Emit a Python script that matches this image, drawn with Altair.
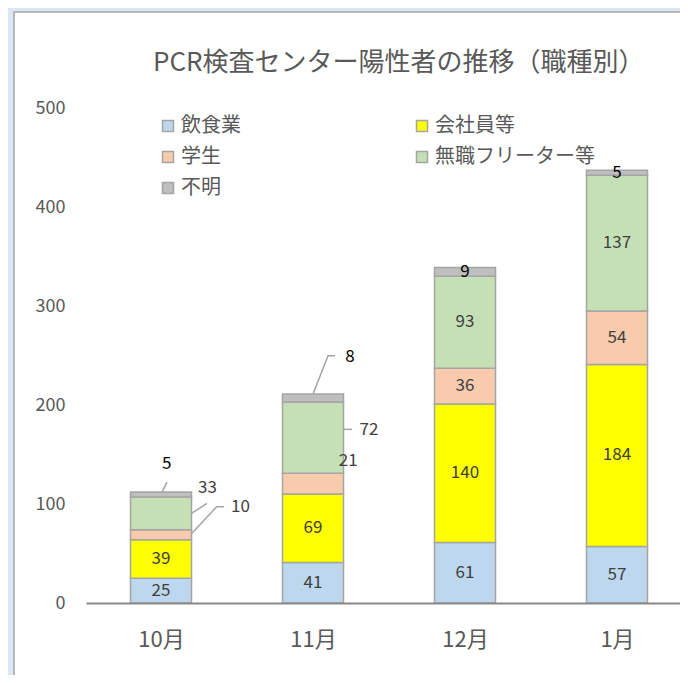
import json
import altair as alt
import pandas as pd

# ---- data ----
months = ["10月", "11月", "12月", "1月"]
categories = ["飲食業", "会社員等", "学生", "無職フリーター等", "不明"]
inshoku = [25, 41, 61, 57]
kaishain = [39, 69, 140, 184]
gakusei = [10, 21, 36, 54]
mushoku = [33, 72, 93, 137]
fumei = [5, 8, 9, 5]

# ---- style ----
colors = ["#bdd7ee", "#ffff00", "#f8cbad", "#c5e0b4", "#bfbfbf"]
FONT = "Noto Sans CJK JP"
GRAY_TXT = "#595959"
LABEL_TXT = "#404040"
EDGE = "#a5a5a5"
PAD_L, PAD_T, PAD_B = 78, 100, 72
W, H = 594, 495
PX = 152.0
XMIN = -75.0 / PX
XMAX = XMIN + W / PX
YMAX = 500
PY = H / YMAX
HALF = 30.5 / PX

series = [inshoku, kaishain, gakusei, mushoku, fumei]
rows = []
tops = []
for i, m in enumerate(months):
    base = 0
    for k, (c, vals) in enumerate(zip(categories, series)):
        v = vals[i]
        rows.append(dict(month=m, idx=i, cat=c, value=v, y0=base, y1=base + v,
                         mid=base + v / 2, x0=i - HALF, x1=i + HALF, order=k))
        base += v
    tops.append(base)
df = pd.DataFrame(rows)

# callout placement (pixel offsets from bar centre / anchor)
callouts = {
    ("10月", "不明"): ("top", 5.7, -28, [(1, 0), (6, -10)]),
    ("10月", "無職フリーター等"): ("mid", 46.5, -25.4, [(30.5, 0), (46, -10)]),
    ("10月", "学生"): ("mid", 79.5, -27.6, [(30.5, -1), (55.7, -28), (63, -28)]),
    ("11月", "不明"): ("top", 37, -37.4, [(0, 0), (15, -38.4), (22, -38.4)]),
    ("11月", "無職フリーター等"): ("mid", 56, -7.6, [(31, -8.3), (39, -8.3)]),
    ("11月", "学生"): ("mid", 35.3, -23.1, []),
}

lab_rows = []
lead_rows = []
for r in rows:
    key = (r["month"], r["cat"])
    black = r["cat"] == "不明"
    if key in callouts:
        anc, dx, dy, pts = callouts[key]
        ay = tops[r["idx"]] if anc == "top" else r["mid"]
        lab_rows.append(dict(x=r["idx"] + dx / PX, y=ay - dy / PY, text=str(r["value"]), black=black))
        for s, (px, py) in enumerate(pts):
            lead_rows.append(dict(lid="|".join(key), seq=s, x=r["idx"] + px / PX, y=ay - py / PY))
    else:
        lab_rows.append(dict(x=r["idx"], y=r["mid"], text=str(r["value"]), black=black))
labs = pd.DataFrame(lab_rows)
leads = pd.DataFrame(lead_rows)

xscale = alt.Scale(domain=[XMIN, XMAX], nice=False, zero=False)
yscale = alt.Scale(domain=[0, YMAX], nice=False)
label_expr = json.dumps(months, ensure_ascii=False) + "[datum.value]"

# white chart panel (decoration) with grey frame, page background is light blue
panel = alt.Chart(pd.DataFrame({"a": [0]})).mark_rect(
    fill="white", stroke="#a6a6a6", strokeWidth=1.5
).encode(x=alt.value(14 - 8 - PAD_L), x2=alt.value(W + 60),
         y=alt.value(12 - 8 - PAD_T), y2=alt.value(H + 200))

bars = alt.Chart(df).mark_bar(stroke=EDGE, strokeWidth=1.5).encode(
    x=alt.X("x0:Q", scale=xscale, title=None,
            axis=alt.Axis(values=[0, 1, 2, 3], labelExpr=label_expr, grid=False, ticks=False,
                          domainColor="#898989", domainWidth=2, labelFontSize=22,
                          labelColor=GRAY_TXT, labelPadding=26, labelFont=FONT, zindex=1)),
    x2="x1:Q",
    y=alt.Y("y0:Q", scale=yscale, title=None,
            axis=alt.Axis(values=[0, 100, 200, 300, 400, 500], grid=False, ticks=False,
                          domain=False, labelFontSize=18, labelColor=GRAY_TXT,
                          labelPadding=21, labelFont=FONT, zindex=1)),
    y2="y1:Q",
    color=alt.Color("cat:N", scale=alt.Scale(domain=categories, range=colors),
                    legend=alt.Legend(title=None, orient="none", legendX=158 - 8 - PAD_L, legendY=8,
                                      direction="horizontal", columns=2, columnPadding=171,
                                      rowPadding=11, symbolType="square", symbolSize=121,
                                      symbolStrokeColor=EDGE, symbolStrokeWidth=1.5,
                                      labelFontSize=20, labelColor=GRAY_TXT, labelFont=FONT,
                                      labelLimit=400, labelOffset=3, zindex=1)),
    order="order:Q",
)

leaders = alt.Chart(leads).mark_line(color=EDGE, strokeWidth=1.5).encode(
    x=alt.X("x:Q", scale=xscale, title=None),
    y=alt.Y("y:Q", scale=yscale, title=None),
    detail="lid:N",
    order="seq:Q",
)

txt_gray = alt.Chart(labs[~labs["black"]]).mark_text(
    font=FONT, fontSize=17, color=LABEL_TXT, baseline="middle", align="center"
).encode(x=alt.X("x:Q", scale=xscale, title=None), y=alt.Y("y:Q", scale=yscale, title=None), text="text:N")

txt_black = alt.Chart(labs[labs["black"]]).mark_text(
    font=FONT, fontSize=17, color="#000000", baseline="middle", align="center"
).encode(x=alt.X("x:Q", scale=xscale, title=None), y=alt.Y("y:Q", scale=yscale, title=None), text="text:N")

chart = alt.layer(panel, bars, leaders, txt_gray, txt_black).properties(
    width=W, height=H,
    autosize=alt.AutoSizeParams(type="none"),
    padding={"left": PAD_L, "top": PAD_T, "right": 0, "bottom": PAD_B},
    title=alt.Title("PCR検査センター陽性者の推移（職種別）", font=FONT, fontSize=26,
                    fontWeight="normal", color=GRAY_TXT, anchor="start", frame="group",
                    dx=153 - 8 - PAD_L, baseline="middle", offset=-77.5, zindex=1),
).configure(background="#dde7f3").configure_view(stroke=None)

chart.save("out.html", embed_options={"renderer": "svg", "actions": False})
